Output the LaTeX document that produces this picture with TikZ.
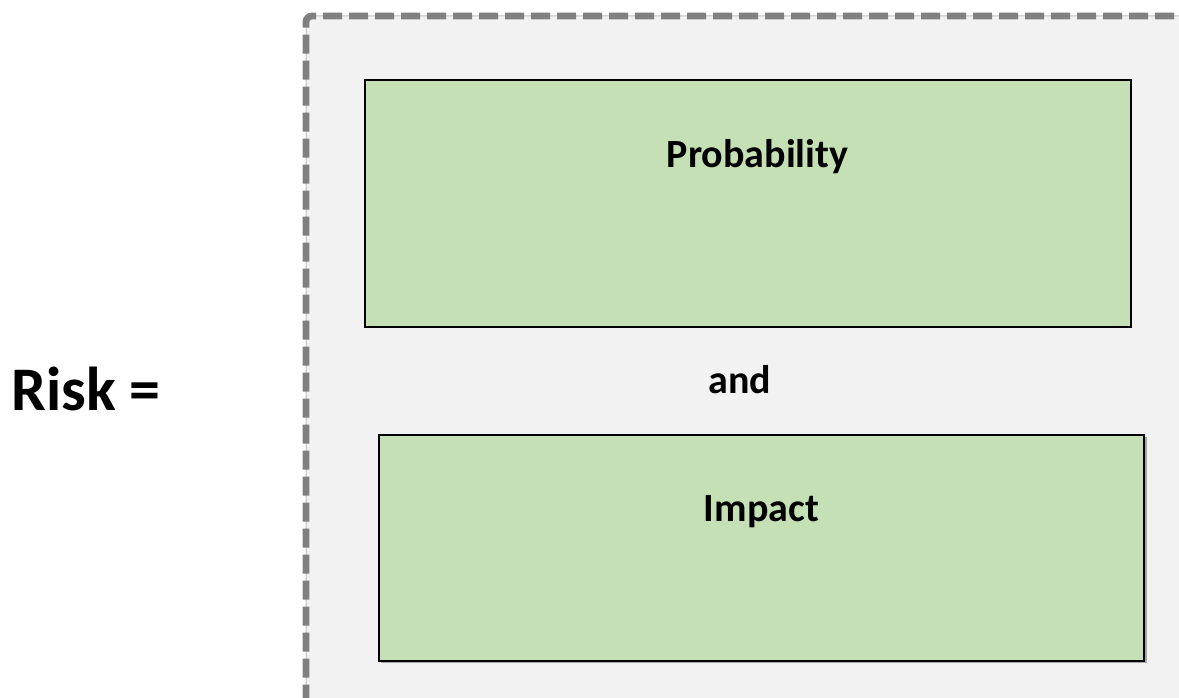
\documentclass[tikz,border=0pt]{standalone}
\usepackage{fontspec}
\setmainfont{Carlito}
\definecolor{bgfill}{HTML}{F2F2F2}
\definecolor{greenfill}{HTML}{C5E0B4}
\definecolor{dashgray}{HTML}{808080}
\definecolor{thingray}{HTML}{BFBFBF}
\begin{document}
\begin{tikzpicture}[x=1pt,y=-1pt,
  greenbox/.style={draw=black,line width=2.5pt,fill=greenfill,rectangle,inner sep=0pt},
  lbl/.style={font=\fontsize{40}{48}\selectfont\bfseries,anchor=base,inner sep=0pt},
  biglbl/.style={font=\fontsize{62}{74}\selectfont\bfseries,anchor=base west,inner sep=0pt}]
\useasboundingbox (0,0) rectangle (1179,698);
\begin{scope}
\clip (0,0) rectangle (1179,698);
\fill[bgfill] (306,16) rectangle (1200,720);
\draw[thingray,line width=1pt,rounded corners=6pt] (1200,16) -- (306,16) -- (306,720);
\draw[dashgray,line width=6.8pt,rounded corners=6pt,dash pattern=on 19pt off 7pt] (1200,16) -- (306,16) -- (306,720);
\end{scope}
% shadow of impact box
\fill[gray!70] (381,437) rectangle (1146.5,662.5);
\node[greenbox,minimum width=766pt,minimum height=247pt] (prob) at (748,203.5) {};
\node[greenbox,minimum width=765pt,minimum height=226pt] (imp) at (761.5,548) {};
\node[lbl] (probt) at (757.5,168) {Probability};
\node[lbl] (andt) at (740,393) {and};
\node[lbl] (impt) at (761.5,521) {Impact};
\node[biglbl] (risk) at (11,410) {Risk =};
\end{tikzpicture}
\end{document}
